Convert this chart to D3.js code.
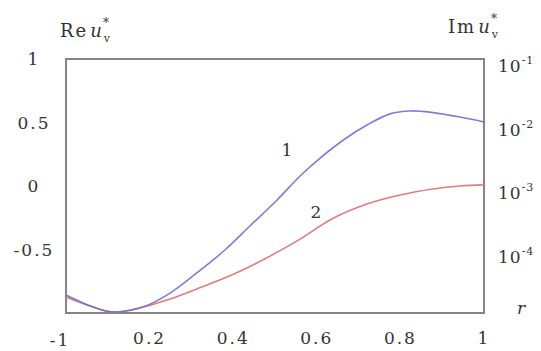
<!DOCTYPE html>
<html><head><meta charset="utf-8">
<script src="https://cdn.jsdelivr.net/npm/d3@7"></script>
<style>body{margin:0;background:#fff}svg{display:block}</style>
</head><body>
<svg id="c" width="541" height="351"></svg>
<script>
// ---- data ----
const xTicks = [0.2, 0.4, 0.6, 0.8, 1];
const xTickLabels = ["0.2", "0.4", "0.6", "0.8", "1"];
const reTicks = [1, 0.5, 0, -0.5];
const reTickLabels = ["1", "0.5", "0", "-0.5"];
const reBottomLabel = "-1";
const imTicks = [1e-1, 1e-2, 1e-3, 1e-4];
const imTickExp = ["-1", "-2", "-3", "-4"];
// curve 1 : Re u_v* (left axis)
const r1 = [0, 0.065, 0.112, 0.184, 0.249, 0.313, 0.380, 0.440, 0.505, 0.560, 0.608, 0.667, 0.720, 0.775, 0.823, 0.878, 0.943, 1];
const re1 = [-0.858, -0.953, -0.992, -0.953, -0.843, -0.685, -0.504, -0.315, -0.110, 0.079, 0.220, 0.370, 0.480, 0.568, 0.591, 0.578, 0.543, 0.504];
// curve 2 : Im u_v* (right log axis)
const r2 = [0, 0.065, 0.112, 0.184, 0.249, 0.313, 0.392, 0.452, 0.512, 0.560, 0.639, 0.720, 0.799, 0.878, 0.943, 1];
const im2 = [1.79e-5, 1.24e-5, 1.04e-5, 1.24e-5, 1.66e-5, 2.39e-5, 3.85e-5, 5.91e-5, 9.6e-5, 1.46e-4, 3.1e-4, 5.2e-4, 7.21e-4, 8.97e-4, 1.0e-3, 1.04e-3];

// ---- layout ----
const L = 66, R = 484, T = 59, B = 313;
const svg = d3.select("#c");
const x = d3.scaleLinear().domain([0, 1]).range([L, R]);
const yRe = d3.scaleLinear().domain([-1, 1]).range([B, T]);
const yIm = d3.scaleLog().domain([1e-5, 1e-1]).range([B, T]);
const font = "'DejaVu Serif', 'Liberation Serif', serif";
const txt = "#333";

// frame
svg.append("rect").attr("x", L).attr("y", T).attr("width", R - L).attr("height", B - T)
  .attr("fill", "none").attr("stroke", "#858585").attr("stroke-width", 2);

// curves
const line1 = d3.line().x(d => x(d[0])).y(d => yRe(d[1])).curve(d3.curveCatmullRom);
const line2 = d3.line().x(d => x(d[0])).y(d => yIm(d[1])).curve(d3.curveCatmullRom);
svg.append("path").datum(r2.map((v, i) => [v, im2[i]])).attr("d", line2)
  .attr("fill", "none").attr("stroke", "#e07c80").attr("stroke-width", 1.6);
svg.append("path").datum(r1.map((v, i) => [v, re1[i]])).attr("d", line1)
  .attr("fill", "none").attr("stroke", "#6f6fd0").attr("stroke-width", 1.6).attr("stroke-opacity", 0.9);

// x tick labels
svg.append("g").selectAll("text").data(xTicks).join("text")
  .attr("x", d => x(d)).attr("y", 344).attr("text-anchor", "middle")
  .attr("font-family", font).attr("font-size", 17).attr("letter-spacing", 2).attr("fill", txt)
  .text((d, i) => xTickLabels[i]);
svg.append("text").attr("x", x(0) - 6).attr("y", 346).attr("text-anchor", "middle")
  .attr("font-family", font).attr("font-size", 17).attr("letter-spacing", 2).attr("fill", txt)
  .text(reBottomLabel);

// left tick labels
svg.append("g").selectAll("text").data(reTicks).join("text")
  .attr("x", 34).attr("y", d => yRe(d) + 6).attr("text-anchor", "middle")
  .attr("font-family", font).attr("font-size", 17).attr("letter-spacing", 2).attr("fill", txt)
  .text((d, i) => reTickLabels[i]);

// right tick labels
const rt = svg.append("g").selectAll("text").data(imTicks).join("text")
  .attr("x", 498).attr("y", d => yIm(d) + 13)
  .attr("font-family", font).attr("font-size", 17).attr("letter-spacing", 1).attr("fill", txt);
rt.append("tspan").text("10");
rt.append("tspan").attr("dy", -8).attr("font-size", 11).text((d, i) => imTickExp[i]);

// axis titles
function title(xp, yp, pre) {
  const t = svg.append("text").attr("x", xp).attr("y", yp)
    .attr("font-family", font).attr("font-size", 18).attr("fill", txt).attr("letter-spacing", 2);
  t.append("tspan").text(pre);
  t.append("tspan").attr("font-style", "italic").attr("dx", 2).text("u");
  t.append("tspan").attr("font-size", 11).attr("dy", 5).text("v");
  t.append("tspan").attr("font-size", 12).attr("dx", -9).attr("dy", -15).text("*");
}
title(60, 37, "Re");
title(448, 33, "Im");

// r label
svg.append("text").attr("x", 517).attr("y", 314).attr("font-family", font)
  .attr("font-style", "italic").attr("font-size", 17).attr("fill", txt).text("r");

// curve labels
svg.append("text").attr("x", 287).attr("y", 156).attr("text-anchor", "middle")
  .attr("font-family", font).attr("font-size", 17).attr("fill", txt).text("1");
svg.append("text").attr("x", 316).attr("y", 218).attr("text-anchor", "middle")
  .attr("font-family", font).attr("font-size", 17).attr("fill", txt).text("2");
</script>
</body></html>
